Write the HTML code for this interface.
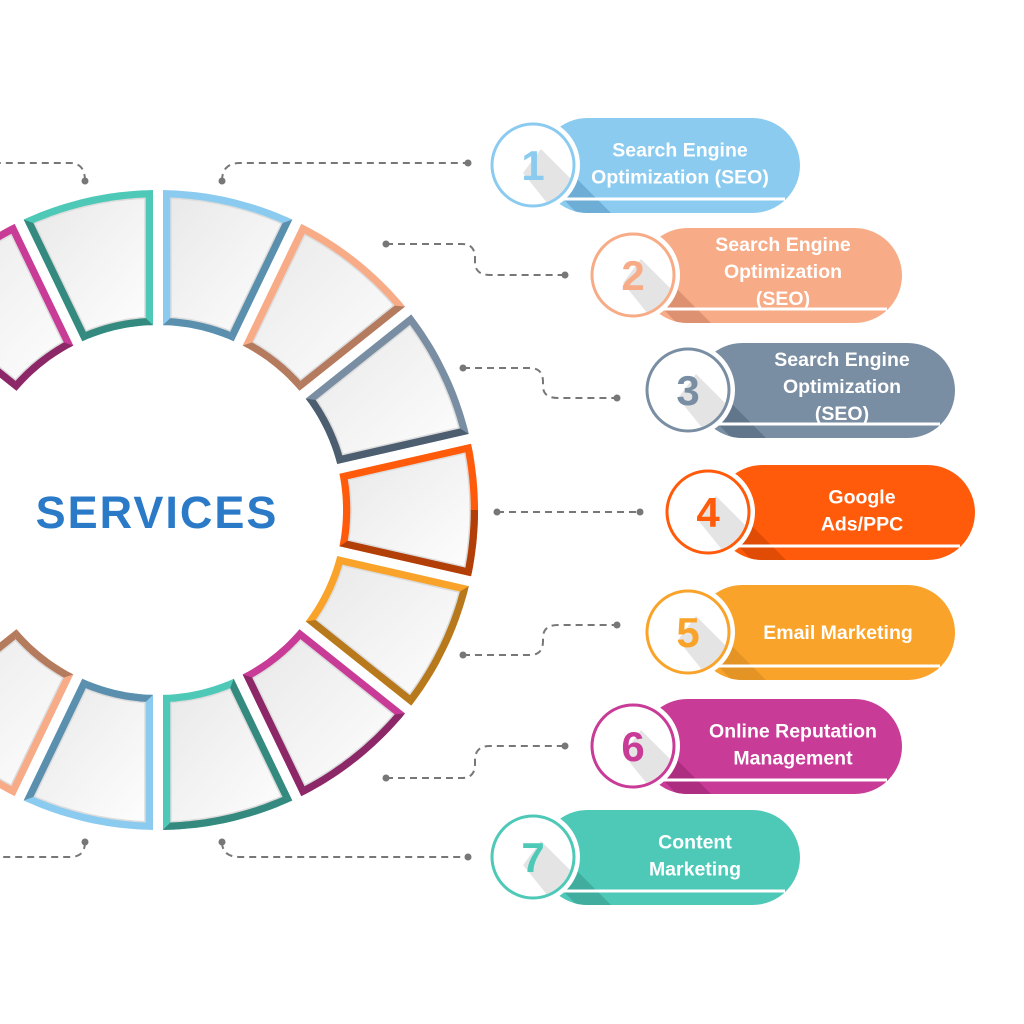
<!DOCTYPE html>
<html><head><meta charset="utf-8"><style>
html,body{margin:0;padding:0;background:#fff;}
svg{display:block}
text{font-family:"Liberation Sans",sans-serif;}
</style></head><body>
<svg id="s" width="1024" height="1024" viewBox="0 0 1024 1024" xmlns="http://www.w3.org/2000/svg">
<defs>
<linearGradient id="g" x1="0" y1="0" x2="1" y2="1">
<stop offset="0" stop-color="#e9e9e9"/><stop offset="1" stop-color="#fdfdfd"/>
</linearGradient>
</defs>
<g id="ring"></g>
<g id="conn" fill="none" stroke="#777" stroke-width="2" stroke-dasharray="7,5">
<path d="M222,181 Q222,163 240,163 L468,163"/>
<path d="M386,244 L462,244 Q475,244 475,258 L475,262 Q475,275 490,275 L565,275"/>
<path d="M463,368 L530,368 Q543,368 543,382 L543,386 Q543,398 558,398 L617,398"/>
<path d="M497,512 L640,512"/>
<path d="M463,655 L530,655 Q543,655 543,641 L543,638 Q543,625 558,625 L617,625"/>
<path d="M386,778 L462,778 Q475,778 475,764 L475,760 Q475,746 490,746 L565,746"/>
<path d="M222,842 Q222,857 240,857 L468,857"/>
<path d="M85,181 Q85,163 70,163 L0,163"/>
<path d="M85,842 Q85,857 70,857 L0,857"/>
</g>
<g fill="#777">
<circle cx="222" cy="181" r="3.5"/><circle cx="468" cy="163" r="3.5"/>
<circle cx="386" cy="244" r="3.5"/><circle cx="565" cy="275" r="3.5"/>
<circle cx="463" cy="368" r="3.5"/><circle cx="617" cy="398" r="3.5"/>
<circle cx="497" cy="512" r="3.5"/><circle cx="640" cy="512" r="3.5"/>
<circle cx="463" cy="655" r="3.5"/><circle cx="617" cy="625" r="3.5"/>
<circle cx="386" cy="778" r="3.5"/><circle cx="565" cy="746" r="3.5"/>
<circle cx="222" cy="842" r="3.5"/><circle cx="468" cy="857" r="3.5"/>
<circle cx="85" cy="181" r="3.5"/><circle cx="85" cy="842" r="3.5"/>
</g>
<text x="157" y="528" text-anchor="middle" font-size="45" font-weight="bold" fill="#2a7ac8" letter-spacing="2">SERVICES</text>
<g id="pills"></g>
</svg>
<script>
var NS="http://www.w3.org/2000/svg";
function el(t,a,p){var e=document.createElementNS(NS,t);for(var k in a)e.setAttribute(k,a[k]);(p||document.getElementById('s')).appendChild(e);return e;}
var cx=158,cy=510,RO=320,RI=185,W=8,G=5;
function pt(r,a,off){ // a in deg, off perpendicular offset in px (applied as angle)
 var aa=a*Math.PI/180+off/r;return [cx+r*Math.cos(aa),cy+r*Math.sin(aa)];}
function arc(r,a0,a1,o0,o1,n){var p=[];for(var i=0;i<=n;i++){var t=i/n;var a=a0+(a1-a0)*t;var o=o0+(o1-o0)*t;p.push(pt(r,a,o));}return p;}
function poly(pts){return pts.map(function(p){return p[0].toFixed(1)+','+p[1].toFixed(1)}).join(' ');}
var ring=document.getElementById('ring');
var segs=[
 // a0,a1,light,dark, mode
 [-90,-64.29,'#8ccbf0','#5b8fae','R'],
 [-64.29,-38.57,'#f7ab86','#b57b5e','R'],
 [-38.57,-12.86,'#7a8ea3','#4d5e70','R'],
 [-12.86,12.86,'#ff5b0b','#b23f08','R'],
 [12.86,38.57,'#f9a32a','#b8781c','R'],
 [38.57,64.29,'#c83b96','#8c2868','R'],
 [64.29,90,'#4ec9b8','#358a7f','B'],
 [90,115.71,'#8ccbf0','#5b8fae','L'],
 [115.71,141.43,'#f7ab86','#b57b5e','L'],
 [218.57,244.29,'#c83b96','#8c2868','T'],
 [244.29,270,'#4ec9b8','#358a7f','T']
];
segs.forEach(function(s){
 var a0=s[0],a1=s[1],n=24;
 var outer=arc(RO,a0,a1,G,-G,n),inner=arc(RI,a1,a0,-G,G,n);
 el('polygon',{points:poly(outer.concat(inner)),fill:s[2]},ring);
 // dark strips
 var mode=s[4];var strips=[];
 var innerStrip=arc(RI+W,a0,a1,G+W,-G-W,n).concat(arc(RI,a1,a0,-G,G,n));
 var outerStrip=arc(RO,a0,a1,G,-G,n).concat(arc(RO-W,a1,a0,-G-W,G+W,n));
 var side1=[pt(RO,a1,-G),pt(RI,a1,-G),pt(RI+W,a1,-G-W),pt(RO-W,a1,-G-W)]; // trailing side (a1)
 var side0=[pt(RO,a0,G),pt(RI,a0,G),pt(RI+W,a0,G+W),pt(RO-W,a0,G+W)];
 if(mode=='R'){ if(a1<=0){strips=[innerStrip,side1];} else {strips=[outerStrip,side1];} if(a0<-13&&a1>-13){} }
 if(mode=='R'&&a0>-13&&a1<13){strips=[side1,arc(RO,0,a1,0,-G,12).concat(arc(RO-W,a1,0,-G-W,0,12))];}
 if(mode=='B'){strips=[outerStrip,side0];}
 if(mode=='L'){strips=[innerStrip,side1];}
 if(mode=='T'){strips=[innerStrip,side0];}
 strips.forEach(function(p){el('polygon',{points:poly(p),fill:s[3]},ring);});
 var io=arc(RO-W,a0,a1,G+W,-G-W,n),ii=arc(RI+W,a1,a0,-G-W,G+W,n);
 el('polygon',{points:poly(io.concat(ii)),fill:'url(#g)',stroke:'#dcdcdc','stroke-width':'1.5'},ring);
});
var pills=[
 [533,165,800,'#8ccbf0','#6eaed6','1',['Search Engine','Optimization (SEO)'],680],
 [633,275,902,'#f7ab86','#dd9170','2',['Search Engine','Optimization','(SEO)'],783],
 [688,390,955,'#7a8ea3','#62768b','3',['Search Engine','Optimization','(SEO)'],842],
 [708,512,975,'#ff5b0b','#e04c05','4',['Google','Ads/PPC'],862],
 [688,632,955,'#f9a32a','#e39424','5',['Email Marketing'],838],
 [633,746,902,'#c83b96','#ad2e80','6',['Online Reputation','Management'],793],
 [533,857,800,'#4ec9b8','#41ad9e','7',['Content','Marketing'],695]
];
var P=document.getElementById('pills');
pills.forEach(function(p,i){
 var x=p[0],y=p[1],r=p[2],c=p[3],d=p[4];
 var top=y-47,h=95,left=x+7;
 var g=el('g',{},P);
 var cid='cp'+i;
 var cp=el('clipPath',{id:cid},g);
 el('rect',{x:left,y:top,width:r-left,height:h,rx:47.5},cp);
 el('rect',{x:left,y:top,width:r-left,height:h,rx:47.5,fill:c},g);
 // shadow band
 el('polygon',{points:(x-12)+','+(y-10)+' '+(x+12)+','+(y-18)+' '+(x+95)+','+(y+65)+' '+(x+60)+','+(y+65),fill:d,'clip-path':'url(#'+cid+')'},g);
 el('line',{x1:x+25,y1:y+34,x2:r-15,y2:y+34,stroke:'#fff','stroke-width':'3'},g);
 el('circle',{cx:x,cy:y,r:47,fill:'#fff'},g);
 el('circle',{cx:x,cy:y,r:41,fill:'#fff',stroke:c,'stroke-width':'3'},g);
 var cp2=el('clipPath',{id:'cc'+i},g);el('circle',{cx:x,cy:y,r:39.5},cp2);
 el('polygon',{points:(x-10)+','+(y+8)+' '+(x+8)+','+(y-16)+' '+(x+70)+','+(y+46)+' '+(x+40)+','+(y+70),fill:'#e4e4e4','clip-path':'url(#cc'+i+')'},g);
 var t=el('text',{x:x,y:y+15,'text-anchor':'middle','font-size':'42','font-weight':'bold',fill:c},g);t.textContent=p[5];
 var lines=p[6],n=lines.length,lh=27;
 var y0=y-(n-1)*lh/2+7-(n==3?4:0)-(n==2?2:0);
 lines.forEach(function(L,j){var tt=el('text',{x:p[7],y:y0+j*lh,'text-anchor':'middle','font-size':'19.5','font-weight':'bold',fill:'#fff'},g);tt.textContent=L;});
});
</script>
</body></html>
